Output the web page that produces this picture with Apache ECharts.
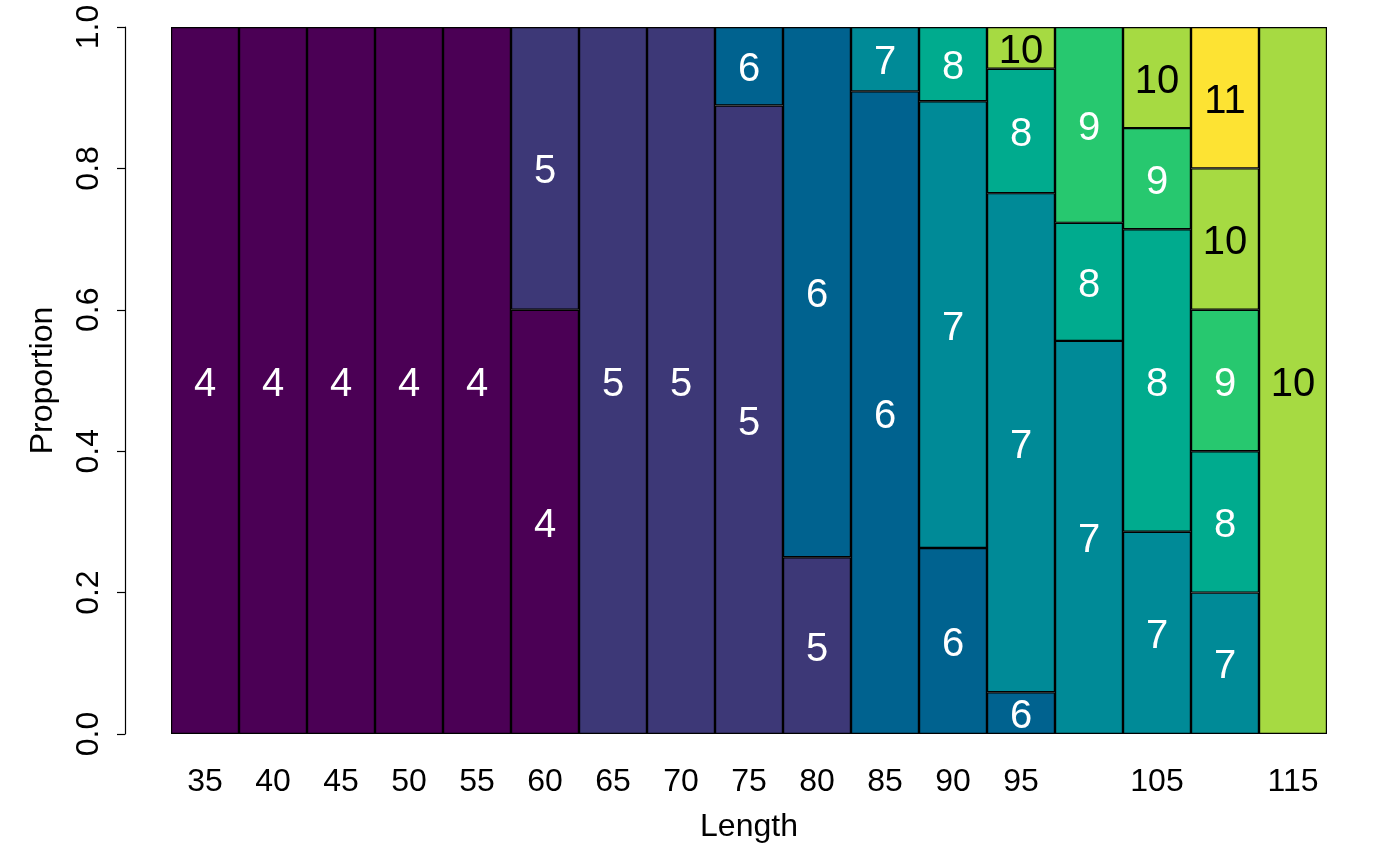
<!DOCTYPE html>
<html>
<head>
<meta charset="utf-8">
<script src="https://cdn.jsdelivr.net/npm/echarts@6/dist/echarts.min.js"></script>
<style>html,body{margin:0;padding:0;background:#fff}#c{width:1400px;height:866px}</style>
</head>
<body>
<div id="c"></div>
<script>
const categories = ['35','40','45','50','55','60','65','70','75','80','85','90','95','100','105','110','115'];
const tickLabels = ['35','40','45','50','55','60','65','70','75','80','85','90','95','','105','','115'];
const ages = ['4','5','6','7','8','9','10','11'];
const age4  = [1,1,1,1,1,0.6,'-','-','-','-','-','-','-','-','-','-','-'];
const age5  = ['-','-','-','-','-',0.4,1,1,0.889,0.25,'-','-','-','-','-','-','-'];
const age6  = ['-','-','-','-','-','-','-','-',0.111,0.75,0.909,0.263,0.059,'-','-','-','-'];
const age7  = ['-','-','-','-','-','-','-','-','-','-',0.091,0.632,0.706,0.556,0.286,0.2,'-'];
const age8  = ['-','-','-','-','-','-','-','-','-','-','-',0.105,0.176,0.167,0.428,0.2,'-'];
const age9  = ['-','-','-','-','-','-','-','-','-','-','-','-','-',0.277,0.143,0.2,'-'];
const age10 = ['-','-','-','-','-','-','-','-','-','-','-','-',0.059,'-',0.143,0.2,1];
const age11 = ['-','-','-','-','-','-','-','-','-','-','-','-','-','-','-',0.2,'-'];
const ageValues = [age4, age5, age6, age7, age8, age9, age10, age11];
const ageColors = ['#4B0055','#3D3877','#00628F','#008A97','#00AB8E','#27C86F','#A6DA42','#FDE333'];
const labelColors = ['#fff','#fff','#fff','#fff','#fff','#fff','#000','#000'];

const FONT = '"Liberation Sans", Arial, sans-serif';
const chart = echarts.init(document.getElementById('c'), null, {renderer: 'canvas'});
chart.setOption({
  animation: false,
  backgroundColor: '#fff',
  grid: {left: 171, right: 73, top: 27, bottom: 132, containLabel: false},
  xAxis: {
    type: 'category',
    data: categories,
    name: 'Length',
    nameLocation: 'middle',
    nameGap: 77,
    nameTextStyle: {fontFamily: FONT, fontSize: 32, color: '#000'},
    axisLine: {show: false},
    axisTick: {show: false},
    axisLabel: {
      interval: 0, margin: 32, fontFamily: FONT, fontSize: 32, color: '#000',
      formatter: (v, i) => tickLabels[i]
    }
  },
  yAxis: {
    type: 'value',
    min: 0, max: 1, interval: 0.2,
    offset: 46,
    name: 'Proportion',
    nameLocation: 'middle',
    nameGap: 66,
    nameRotate: 90,
    nameTextStyle: {fontFamily: FONT, fontSize: 32, color: '#000'},
    axisLine: {show: true, lineStyle: {color: '#000', width: 1.2}},
    axisTick: {show: true, length: 8, lineStyle: {color: '#000', width: 1.2}},
    splitLine: {show: false},
    axisLabel: {
      rotate: 90, margin: 20, fontFamily: FONT, fontSize: 32, color: '#000',
      formatter: v => v.toFixed(1)
    }
  },
  series: ages.map((a, k) => ({
    name: a,
    type: 'bar',
    stack: 'total',
    barCategoryGap: '0%',
    data: ageValues[k],
    itemStyle: {color: ageColors[k], borderColor: '#000', borderWidth: 1.2},
    label: {
      show: true, position: 'inside', formatter: a, offset: [0, 4],
      fontFamily: FONT, fontSize: 40, color: labelColors[k]
    }
  }))
});
</script>
</body>
</html>
